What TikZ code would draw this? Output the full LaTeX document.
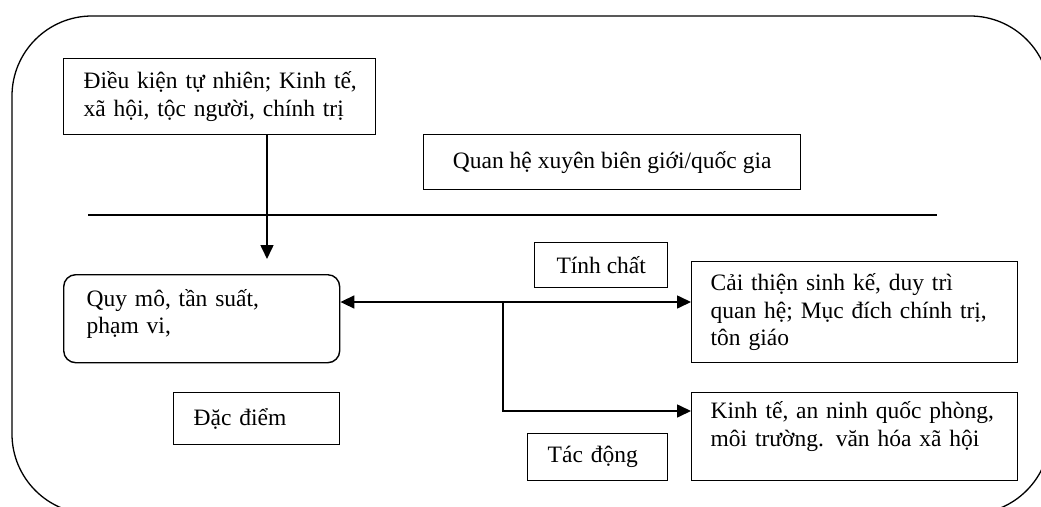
\documentclass[tikz,border=0pt]{standalone}
\usepackage{fontspec}
\setmainfont{Liberation Serif}
\usetikzlibrary{arrows.meta}
\newcommand\diafont{\fontsize{23.5}{27.5}\selectfont}
\newcommand\lowpad[1]{\rule[-#1]{0pt}{1pt}}
\begin{document}
\begin{tikzpicture}[x=1pt,y=-1pt,
  bx/.style={draw, line width=1.4pt, anchor=north west, inner ysep=0pt, align=left, font=\diafont},
  arr/.style={line width=1.6pt, -{Triangle[length=14pt,width=13pt]}},
  darr/.style={line width=1.6pt, {Triangle[length=14pt,width=13pt]}-{Triangle[length=14pt,width=13pt]}},
]
\useasboundingbox (0,0) rectangle (1041,506);
\clip (0,0) rectangle (1041,506);
\draw[line width=1.3pt, rounded corners=80pt] (12,16) rectangle (1050,514);

\node[bx, text width=272pt, inner xsep=20pt, minimum height=76pt] (b1) at (63,58)
  {\mbox{Điều kiện tự nhiên; Kinh tế,}\\\mbox{xã hội, tộc người, chính trị}};
\node[bx, align=center, inner xsep=0pt, minimum width=377pt, minimum height=55pt] (quan) at (423,134)
  {Quan hệ xuyên biên giới/quốc gia};
\node[bx, align=center, inner xsep=0pt, minimum width=133pt, minimum height=45pt] (tinh) at (534,242)
  {Tính chất};
\node[bx, rounded corners=12pt, text width=230pt, inner xsep=23pt, minimum height=88pt] (quy) at (63,274)
  {\mbox{Quy mô, tần suất,}\\\mbox{phạm vi,}\lowpad{14pt}};
\node[bx, text width=288pt, inner xsep=19pt, minimum height=101pt] (cai) at (691,261)
  {\mbox{Cải thiện sinh kế, duy trì}\\\mbox{quan hệ; Mục đích chính trị,}\\\mbox{tôn giáo}};
\node[bx, text width=288pt, inner xsep=19pt, minimum height=88pt] (kinh) at (691,392)
  {\mbox{Kinh tế, an ninh quốc phòng,}\\\mbox{môi trường. văn hóa xã hội}\lowpad{25pt}};
\node[bx, text width=126pt, inner xsep=20pt, minimum height=52pt] (dac) at (173,392)
  {\mbox{Đặc điểm}};
\node[bx, text width=100pt, inner xsep=20pt, minimum height=47pt] (tac) at (527,433)
  {\mbox{Tác động}};

\draw[line width=1.3pt] (88,215) -- (937,215);

\coordinate (a1) at ([xshift=204pt]b1.south west);
\draw[arr, shorten >=15pt] (a1) -- (a1 |- quy.north);
\coordinate (j) at (503,302);
\coordinate (k) at (503,411);
\draw[darr] (j -| quy.east) -- (j -| cai.west);
\draw[arr] (j) -- (k) -- (k -| kinh.west);
\end{tikzpicture}
\end{document}
